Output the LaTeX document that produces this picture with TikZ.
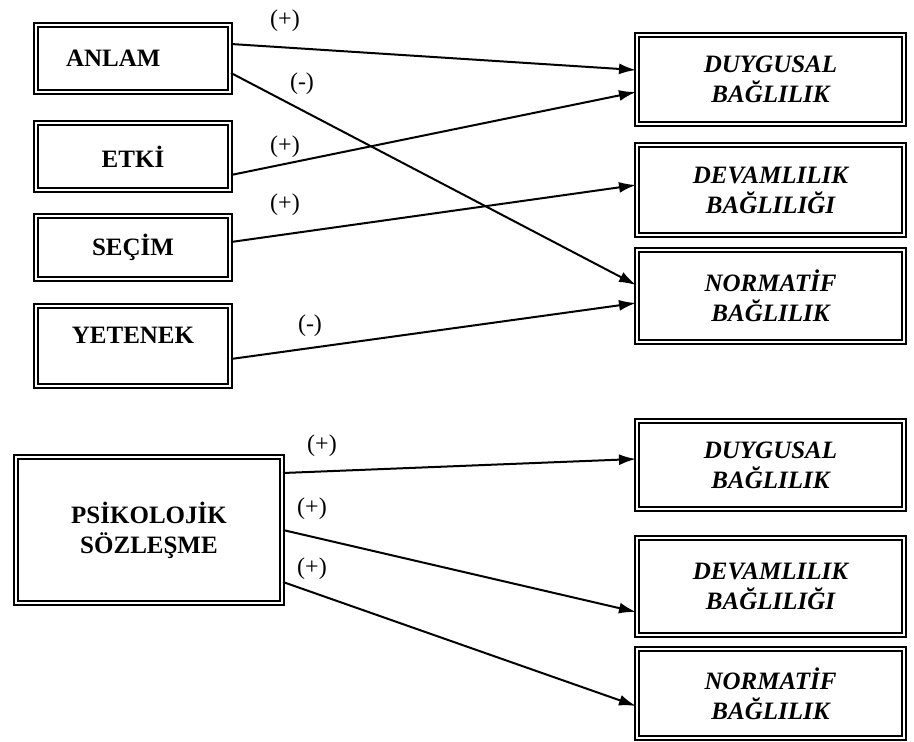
\documentclass[tikz,border=0pt]{standalone}
\usepackage{fontspec}
\setmainfont{Liberation Serif}
\usetikzlibrary{arrows.meta}

\tikzset{
  kutu/.style={draw, line width=2pt, double=white, double distance=1.5pt,
    align=center, inner sep=2pt, font=\fontsize{25}{30}\selectfont\bfseries},
  sonuc/.style={kutu, minimum width=267pt, font=\fontsize{25}{30}\selectfont\bfseries\itshape},
  ok/.style={line width=2pt, -{Latex[length=17pt,width=11pt]}},
  isaret/.style={font=\fontsize{24}{28}\selectfont}
}

\begin{document}
\begin{tikzpicture}[x=1pt, y=-1pt]
  \useasboundingbox (0,0) rectangle (914,742);

  % Sol kutular
  \node[kutu, minimum width=194pt, minimum height=67pt, text width=134pt,
        inner xsep=30pt, align=left] (anlam) at (133,58.5) {ANLAM};
  \node[kutu, minimum width=194pt, minimum height=67pt] (etki) at (133,156.5) {ETKİ};
  \node[kutu, minimum width=194pt, minimum height=63pt] (secim) at (133,247.5) {SEÇİM};
  \node[kutu, minimum width=194pt, minimum height=80pt] (yetenek) at (133,346)
        {YETENEK\\[-8pt]};

  % Sag kutular (ust)
  \node[sonuc, minimum height=89pt] (duygusal) at (770.5,79.5) {DUYGUSAL\\BAĞLILIK};
  \node[sonuc, minimum height=90pt] (devam) at (770.5,190) {DEVAMLILIK\\BAĞLILIĞI};
  \node[sonuc, minimum height=92pt] (normatif) at (770.5,296) {NORMATİF\\BAĞLILIK};

  % Psikolojik sozlesme
  \node[kutu, minimum width=266pt, minimum height=146pt] (psiko) at (149,530)
        {PSİKOLOJİK\\SÖZLEŞME};

  % Sag kutular (alt)
  \node[sonuc, minimum height=88pt] (duygusal2) at (770.5,465) {DUYGUSAL\\BAĞLILIK};
  \node[sonuc, minimum height=97pt] (devam2) at (770.5,586.5) {DEVAMLILIK\\BAĞLILIĞI};
  \node[sonuc, minimum height=89pt] (normatif2) at (770.5,693.5) {NORMATİF\\BAĞLILIK};

  % Oklar (ust)
  \draw[ok] ([yshift=14.5pt]anlam.east) -- ([yshift=9.5pt]duygusal.west);
  \draw[ok] ([yshift=-14.5pt]anlam.east) -- ([yshift=11pt]normatif.west);
  \draw[ok] ([yshift=-18.5pt]etki.east) -- ([yshift=-12.5pt]duygusal.west);
  \draw[ok] ([yshift=5.5pt]secim.east) -- ([yshift=5pt]devam.west);
  \draw[ok] ([yshift=-13pt]yetenek.east) -- ([yshift=-7pt]normatif.west);

  % Oklar (alt)
  \draw[ok] ([yshift=57pt]psiko.east) -- ([yshift=6pt]duygusal2.west);
  \draw[ok] (psiko.east) -- ([yshift=-25.5pt]devam2.west);
  \draw[ok] ([yshift=-52pt]psiko.east) -- ([yshift=-12.5pt]normatif2.west);

  % Isaretler
  \node[isaret] (i1) at (285,21) {(+)};
  \node[isaret] (i2) at (302,84) {(-)};
  \node[isaret] (i3) at (285,147) {(+)};
  \node[isaret] (i4) at (285,205) {(+)};
  \node[isaret] (i5) at (310,326) {(-)};
  \node[isaret] (i6) at (322,446) {(+)};
  \node[isaret] (i7) at (312,509) {(+)};
  \node[isaret] (i8) at (312,569) {(+)};

\end{tikzpicture}
\end{document}
